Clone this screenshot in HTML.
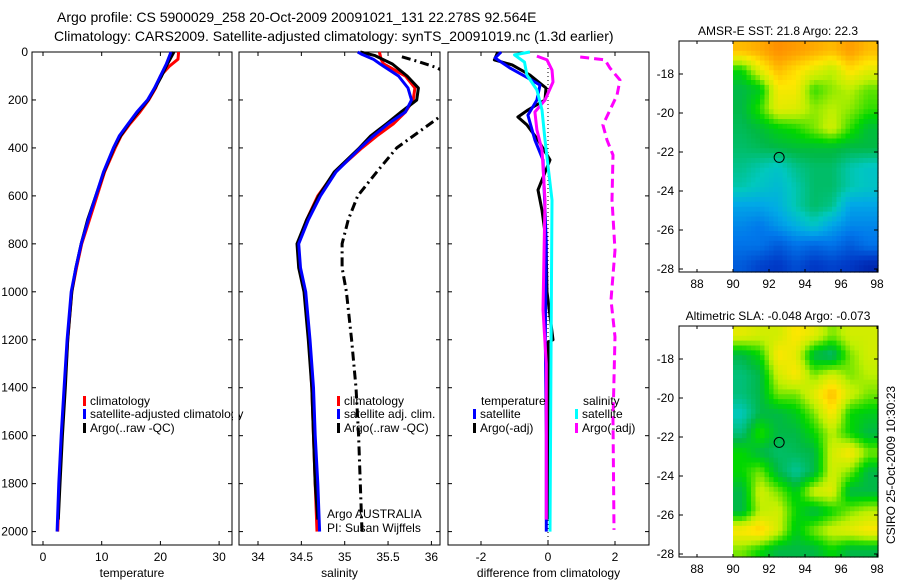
<!DOCTYPE html>
<html><head><meta charset="utf-8">
<style>
html,body{margin:0;padding:0;background:#fff;}
svg{display:block;font-family:"Liberation Sans",sans-serif;}
</style></head>
<body>
<svg id="chart" width="900" height="580" viewBox="0 0 900 580" xmlns="http://www.w3.org/2000/svg">
<defs>
<clipPath id="c1"><rect x="32" y="44" width="200" height="501"/></clipPath>
<clipPath id="c2"><rect x="239" y="44" width="201" height="501"/></clipPath>
<clipPath id="c3"><rect x="448" y="44" width="201" height="501"/></clipPath>
</defs>
<text x="57" y="22" font-size="14">Argo profile: CS 5900029_258 20-Oct-2009 20091021_131 22.278S 92.564E</text>
<text x="54" y="41" font-size="14">Climatology: CARS2009. Satellite-adjusted climatology: synTS_20091019.nc (1.3d earlier)</text>
<g id="g1"></g>
<g id="g2"></g>
<g id="g3"></g>
<g id="m1"></g>
<g id="m2"></g>
<text transform="translate(895,465) rotate(-90)" text-anchor="middle" font-size="12">CSIRO 25-Oct-2009 10:30:23</text>
</svg>
<script>
// ---------- profile data ----------
const depthTicks = [0,200,400,600,800,1000,1200,1400,1600,1800,2000];
const tempTicks = [0,10,20,30];
const salTicks = [34,34.5,35,35.5,36];
const salTickLabels = ["34","34.5","35","35.5","36"];
const diffTicks = [-2,0,2];

const tClimD = [0,30,60,100,150,200,250,300,350,400,500,600,700,800,900,1000,1200,1400,1600,1800,2000];
const tClimV = [23.1,23,21.5,20,19.2,18,16.5,14.8,13.3,12.3,10.5,9.2,7.9,6.6,5.7,4.9,4.2,3.7,3.2,2.8,2.5];
const tSatD = [0,50,100,150,200,250,300,350,400,500,600,700,800,900,1000,1200,1400,1600,1800,2000];
const tSatV = [21.8,21.0,20.0,19.0,17.8,16.0,14.5,13.0,12.0,10.3,9.0,7.7,6.5,5.6,4.8,4.1,3.6,3.1,2.7,2.4];
const tArgoD = [0,50,100,150,200,250,300,350,400,500,600,700,800,900,1000,1200,1400,1600,1800,1950];
const tArgoV = [22.3,21.2,20.2,19.1,17.9,16.2,14.6,13.2,12.1,10.4,9.0,7.6,6.5,5.6,4.9,4.2,3.8,3.3,2.9,2.6];

const sClimD = [0,30,50,100,150,200,250,300,350,400,500,600,700,800,900,1000,1200,1400,1600,1800,2000];
const sClimV = [35.40,35.42,35.45,35.70,35.81,35.79,35.70,35.56,35.37,35.20,34.89,34.69,34.56,34.46,34.48,34.54,34.59,34.62,34.64,34.66,34.68];
const sSatD = [0,10,30,50,100,150,200,250,300,350,400,500,600,700,800,900,1000,1200,1400,1600,1800,2000];
const sSatV = [35.15,35.2,35.33,35.41,35.62,35.73,35.77,35.70,35.50,35.33,35.18,34.90,34.72,34.58,34.47,34.49,34.55,34.60,34.64,34.66,34.69,34.71];
const sArgoD = [0,15,50,100,150,200,250,300,350,400,500,600,700,800,900,1000,1200,1400,1600,1800,1950];
const sArgoV = [35.18,35.35,35.55,35.72,35.85,35.83,35.65,35.48,35.30,35.17,34.88,34.70,34.56,34.45,34.47,34.53,34.58,34.62,34.64,34.66,34.69];
const sRawD = [20,40,65,150,280,400,500,600,700,800,900,1000,1200,1400,1600,1800,2000];
const sRawV = [35.66,35.85,36.06,36.5,36.06,35.6,35.37,35.15,35.04,34.97,34.97,35.02,35.08,35.13,35.16,35.18,35.2];

const dTSatD = [0,25,67,108,138,200,263,367,450,617,800,1200,1600,2000];
const dTSatV = [-1.4,-1.58,-1.13,-0.6,-0.24,-0.33,-0.6,-0.39,-0.15,-0.1,-0.05,-0.08,-0.05,-0.05];
const dTArgoD = [0,33,54,96,150,200,242,271,304,367,450,575,660,784,1000,1200,1210,1400,1800,1950];
const dTArgoV = [-1.5,-1.6,-1.07,-0.54,-0.06,-0.09,-0.6,-0.9,-0.63,-0.3,0.06,-0.3,-0.18,-0.06,-0.03,0.15,0.0,0.0,0.0,0.0];
const dSSatD = [0,12,42,96,158,242,367,617,1000,1500,2000];
const dSSatV = [-0.54,-1.0,-0.7,-0.63,-0.33,-0.18,-0.09,0.12,0.1,0.08,0.06];
const dSArgoD = [17,33,75,125,200,250,325,409,617,1075,1300,1600,1950];
const dSArgoV = [-0.33,-0.03,0.12,0.15,-0.09,-0.39,-0.33,-0.18,-0.09,-0.15,-0.05,-0.05,-0.05];
const dSRawD = [21,33,67,117,180,242,304,367,430,617,826,1034,1188,1535,1993];
const dSRawV = [0.96,1.7,1.85,2.15,2.06,1.85,1.64,1.76,1.94,1.91,2.0,1.88,2.0,1.94,1.97];

// ---------- map data (coarse 1-degree grid, rows north->south, cols 90.5..97.5E) ----------
const mapLonTicks = [88,90,92,94,96,98];
const mapLatTicks = [-18,-20,-22,-24,-26,-28];
const sstGrid = [
[0.70,0.72,0.76,0.74,0.72,0.70,0.74,0.70],
[0.50,0.62,0.70,0.66,0.62,0.58,0.66,0.62],
[0.45,0.48,0.64,0.64,0.52,0.56,0.58,0.54],
[0.45,0.52,0.62,0.61,0.56,0.58,0.56,0.52],
[0.44,0.46,0.49,0.51,0.55,0.60,0.52,0.46],
[0.43,0.44,0.45,0.46,0.46,0.46,0.45,0.45],
[0.41,0.39,0.37,0.41,0.43,0.43,0.39,0.37],
[0.39,0.37,0.35,0.39,0.43,0.43,0.39,0.37],
[0.31,0.31,0.33,0.39,0.43,0.41,0.31,0.31],
[0.27,0.25,0.29,0.33,0.37,0.31,0.27,0.27],
[0.24,0.24,0.20,0.24,0.22,0.24,0.20,0.24],
[0.20,0.16,0.14,0.18,0.14,0.16,0.14,0.10]];
const slaGrid = [
[0.62,0.60,0.60,0.65,0.62,0.55,0.60,0.60],
[0.45,0.50,0.65,0.62,0.45,0.42,0.55,0.60],
[0.42,0.45,0.60,0.65,0.55,0.60,0.55,0.58],
[0.42,0.45,0.55,0.55,0.62,0.70,0.60,0.55],
[0.38,0.45,0.45,0.48,0.55,0.65,0.50,0.48],
[0.42,0.52,0.45,0.45,0.50,0.58,0.50,0.45],
[0.50,0.45,0.43,0.44,0.45,0.60,0.65,0.55],
[0.50,0.55,0.45,0.40,0.45,0.60,0.55,0.45],
[0.45,0.60,0.55,0.48,0.60,0.62,0.45,0.45],
[0.45,0.58,0.60,0.50,0.45,0.50,0.55,0.58],
[0.65,0.68,0.60,0.48,0.55,0.60,0.62,0.65],
[0.55,0.50,0.45,0.45,0.45,0.50,0.45,0.45]];
const argoLon = 92.564, argoLat = -22.278;

const NS = "http://www.w3.org/2000/svg";
function el(tag, attrs, parent){const e=document.createElementNS(NS,tag);for(const k in attrs)e.setAttribute(k,attrs[k]);if(parent)parent.appendChild(e);return e;}
const yD = d => 52 + d*0.2398;

function panel(g, x0, x1, xs, ticks, labels, clip, xtitle, ylabels){
  el('rect',{x:x0,y:52,width:x1-x0,height:493,fill:'none',stroke:'#000','stroke-width':1},g);
  depthTicks.forEach(d=>{
    const y=yD(d);
    el('line',{x1:x0,y1:y,x2:x0+4,y2:y,stroke:'#000'},g);
    el('line',{x1:x1-4,y1:y,x2:x1,y2:y,stroke:'#000'},g);
    if(ylabels){const t=el('text',{x:x0-4,y:y+4,'text-anchor':'end','font-size':12},g);t.textContent=d;
      
      }
  });
  ticks.forEach((v,i)=>{
    const x=xs(v);
    el('line',{x1:x,y1:545,x2:x,y2:541,stroke:'#000'},g);
    el('line',{x1:x,y1:52,x2:x,y2:56,stroke:'#000'},g);
    const t=el('text',{x:x,y:561,'text-anchor':'middle','font-size':12},g);t.textContent=labels[i];
    
    
  });
  const tt=el('text',{x:(x0+x1)/2,y:577,'text-anchor':'middle','font-size':12},g);tt.textContent=xtitle;
  
  
}
function line(g, xs, D, V, color, w, dash, clip, name){
  const pts=D.map((d,i)=>xs(V[i]).toFixed(1)+','+yD(d).toFixed(1)).join(' ');
  const p=el('polyline',{points:pts,fill:'none',stroke:color,'stroke-width':w,'stroke-linejoin':'round','clip-path':'url(#'+clip+')'},g);
  if(dash)p.setAttribute('stroke-dasharray',dash);
  
  
}
function legend(g, x, y, color, label, dashed){
  const r=el('rect',{x:x,y:y-9,width:3,height:10,fill:color},g);
  
  
  const t=el('text',{x:x+7,y:y,'font-size':12},g);t.textContent=label;
  
  
}

// Panel 1
const g1=document.getElementById('g1');
const xT = v => 43 + v*5.87;
panel(g1,32,232,xT,tempTicks,tempTicks.map(String),'c1','temperature',true);
line(g1,xT,tClimD,tClimV,'#f00',3,null,'c1','temp-climatology-line');
line(g1,xT,tArgoD,tArgoV,'#000',3,null,'c1','temp-argo-line');
line(g1,xT,tSatD,tSatV,'#00f',3,null,'c1','temp-satellite-line');
legend(g1,83,405,'#f00','climatology');
legend(g1,83,418,'#00f','satellite-adjusted climatology');
legend(g1,83,432,'#000','Argo(..raw -QC)');
el('rect',{x:233,y:380,width:6,height:60,fill:'#fff'},g1);
el('line',{x1:232,y1:52,x2:232,y2:545,stroke:'#000'},g1);

// Panel 2
const g2=document.getElementById('g2');
const xS = v => 258 + (v-34)*86.7;
panel(g2,239,440,xS,salTicks,salTickLabels,'c2','salinity',false);
line(g2,xS,sRawD,sRawV,'#000',3,'9,4,2,4','c2','salinity-raw-line');
line(g2,xS,sClimD,sClimV,'#f00',3,null,'c2','sal-climatology-line');
line(g2,xS,sArgoD,sArgoV,'#000',3,null,'c2','sal-argo-line');
line(g2,xS,sSatD,sSatV,'#00f',3,null,'c2','sal-satellite-line');
legend(g2,337,405,'#f00','climatology');
legend(g2,337,418,'#00f','satellite adj. clim.');
legend(g2,337,432,'#000','Argo(..raw -QC)');
const a1=el('text',{x:327,y:518,'font-size':12},g2);a1.textContent='Argo AUSTRALIA';


const a2=el('text',{x:327,y:532,'font-size':12},g2);a2.textContent='PI: Susan Wijffels';



// Panel 3
const g3=document.getElementById('g3');
const xDf = v => 548 + v*33.5;
panel(g3,448,649,xDf,diffTicks,diffTicks.map(String),'c3','difference from climatology',false);
el('line',{x1:xDf(0),y1:52,x2:xDf(0),y2:545,stroke:'#000','stroke-width':1,'stroke-dasharray':'1,3'},g3);
line(g3,xDf,dSRawD,dSRawV,'#f0f',3,'9,5','c3','sal-raw-diff-line');
line(g3,xDf,dTArgoD,dTArgoV,'#000',3,null,'c3','temp-argo-diff-line');
line(g3,xDf,dTSatD,dTSatV,'#00f',3,null,'c3','temp-satellite-diff-line');
line(g3,xDf,dSArgoD,dSArgoV,'#f0f',3,null,'c3','sal-argo-diff-line');
line(g3,xDf,dSSatD,dSSatV,'#0ff',3,null,'c3','sal-satellite-diff-line');
const lt=el('text',{x:481,y:405,'font-size':12},g3);lt.textContent='temperature';


const ls=el('text',{x:583,y:405,'font-size':12},g3);ls.textContent='salinity';


legend(g3,473,418,'#00f','satellite');
legend(g3,473,432,'#000','Argo(-adj)');
legend(g3,575,418,'#0ff','satellite');
legend(g3,575,432,'#f0f','Argo(-adj)');

// ---------- maps ----------
const stops=[[0,[0,0,130]],[0.15,[0,60,200]],[0.25,[0,120,235]],[0.32,[0,170,230]],[0.38,[0,200,190]],[0.45,[0,185,70]],[0.5,[0,215,0]],[0.58,[190,240,0]],[0.65,[255,230,0]],[0.72,[255,170,0]],[0.85,[255,80,0]],[1,[200,0,0]]];
function cmap(v){
  v=Math.max(0,Math.min(1,v));
  for(let i=1;i<stops.length;i++){if(v<=stops[i][0]){const a=stops[i-1],b=stops[i],f=(v-a[0])/(b[0]-a[0]);
    return 'rgb('+a[1].map((c,k)=>Math.round(c+(b[1][k]-c)*f)).join(',')+')';}}
  return 'rgb(200,0,0)';
}
function sample(grid, lon, lat){
  let cx=Math.max(0,Math.min(7,lon-90.5)), cy=Math.max(0,Math.min(11,(-16.8-lat)));
  const i0=Math.floor(cx), j0=Math.floor(cy), i1=Math.min(7,i0+1), j1=Math.min(11,j0+1), fx=cx-i0, fy=cy-j0;
  return grid[j0][i0]*(1-fx)*(1-fy)+grid[j0][i1]*fx*(1-fy)+grid[j1][i0]*(1-fx)*fy+grid[j1][i1]*fx*fy;
}
function drawMap(id, grid, top, lat18y, title){
  const g=document.getElementById(id);
  const xL = lon => 697 + (lon-88)*18;
  const yL = lat => lat18y + (-18-lat)*19.5;
  const bottom = top+231;
  const latTop = -18 + (lat18y-top)/19.5, latBot = -18 - (bottom-lat18y)/19.5;
  const cells=el('g',{},g);
  
  
  const dl=0.25, dlat=0.25;
  for(let lat=latTop; lat>latBot; lat-=dlat){
    for(let lon=90; lon<98.07; lon+=dl){
      const v=sample(grid, lon+dl/2, lat-dlat/2);
      const x=xL(lon), y=yL(lat);
      const w=Math.min(xL(lon+dl),878)-x, h=Math.min(yL(lat-dlat),bottom)-y;
      el('rect',{x:x.toFixed(2),y:y.toFixed(2),width:(w+0.6).toFixed(2),height:(h+0.6).toFixed(2),fill:cmap(v)},cells);
    }
  }
  el('rect',{x:679,y:top,width:199,height:231,fill:'none',stroke:'#000'},g);
  mapLonTicks.forEach(l=>{const x=xL(l);
    el('line',{x1:x,y1:bottom,x2:x,y2:bottom-3,stroke:'#000'},g);
    el('line',{x1:x,y1:top,x2:x,y2:top+3,stroke:'#000'},g);
    const t=el('text',{x:x,y:bottom+16,'text-anchor':'middle','font-size':12},g);t.textContent=l;
    
    });
  mapLatTicks.forEach(l=>{const y=yL(l);
    el('line',{x1:679,y1:y,x2:683,y2:y,stroke:'#000'},g);
    el('line',{x1:874,y1:y,x2:878,y2:y,stroke:'#000'},g);
    const t=el('text',{x:674,y:y+4,'text-anchor':'end','font-size':12},g);t.textContent=l;
    
    });
  const c=el('circle',{cx:xL(argoLon),cy:yL(argoLat),r:5,fill:'none',stroke:'#000','stroke-width':1},g);
  
  
  const t=el('text',{x:778,y:top-6,'text-anchor':'middle','font-size':12},g);t.textContent=title;
  
  
}
drawMap('m1', sstGrid, 41, 74, 'AMSR-E SST: 21.8 Argo: 22.3');
drawMap('m2', slaGrid, 326, 359, 'Altimetric SLA: -0.048 Argo: -0.073');
</script>
</body></html>
